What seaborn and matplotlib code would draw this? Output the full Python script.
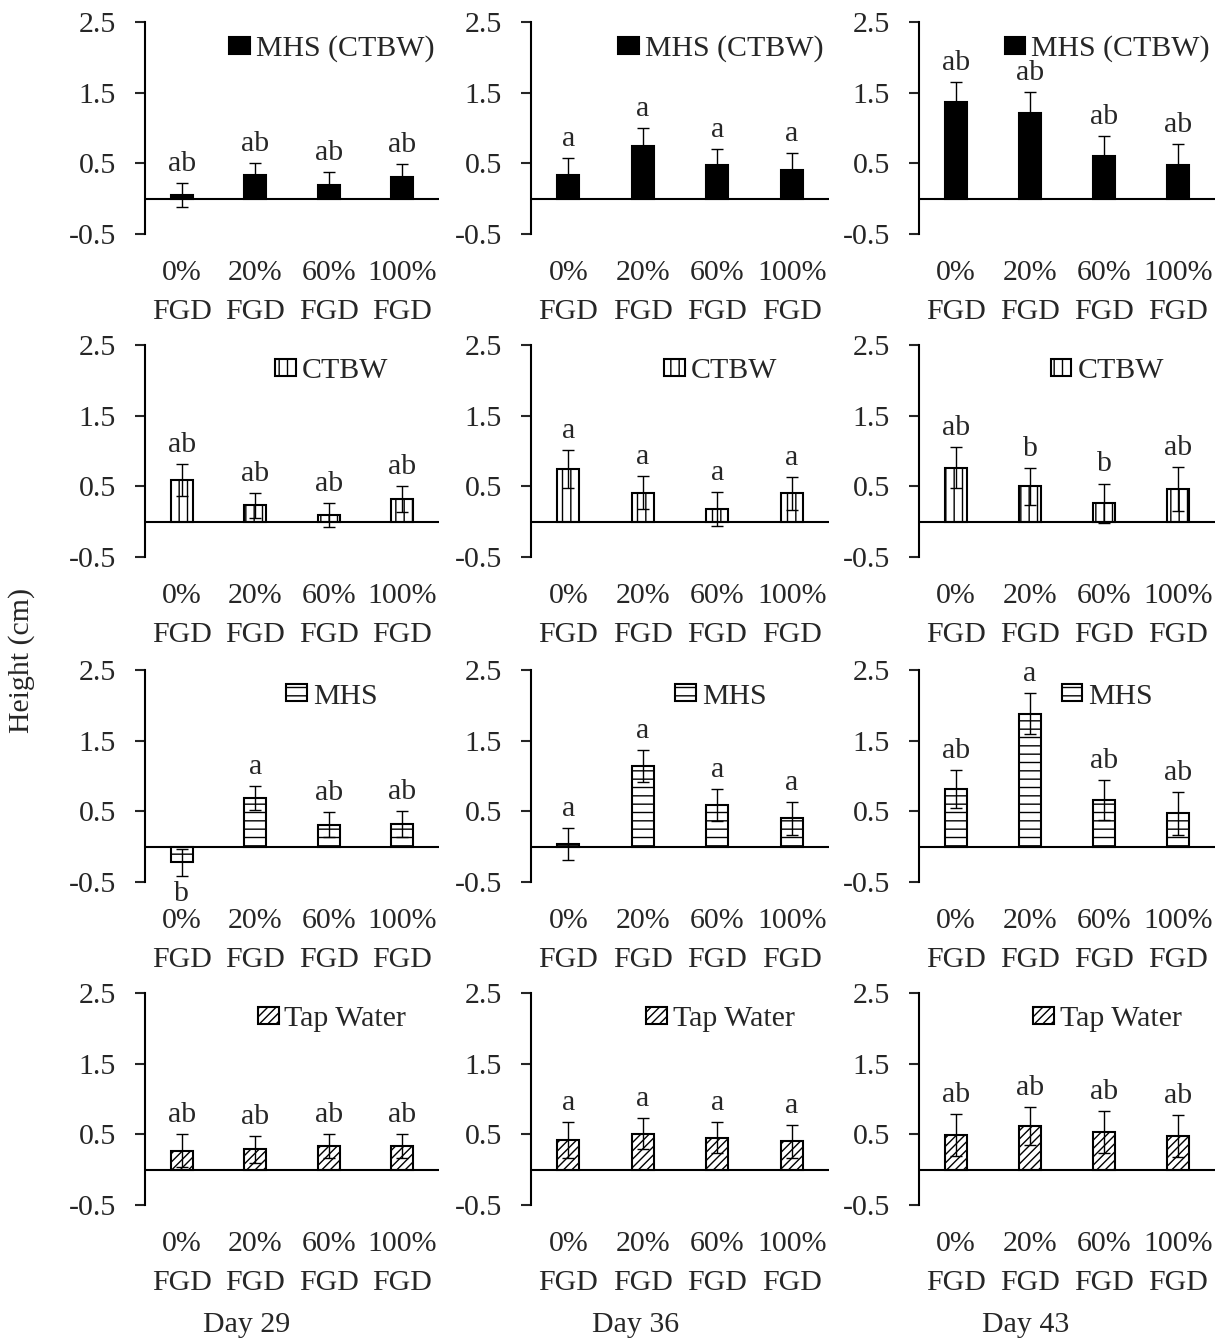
import matplotlib
matplotlib.use("Agg")
import matplotlib.pyplot as plt
from matplotlib.patches import Patch
import seaborn as sns
import pandas as pd

# ---------------- data ----------------
categories = ["0%\nFGD", "20%\nFGD", "60%\nFGD", "100%\nFGD"]
days = ["Day 29", "Day 36", "Day 43"]
treatments = ["MHS (CTBW)", "CTBW", "MHS", "Tap Water"]

# means / errors / letters per day (Day 29, Day 36, Day 43)
mean_mhs_ctbw = [[0.05, 0.33, 0.20, 0.31], [0.34, 0.75, 0.47, 0.41], [1.37, 1.21, 0.61, 0.47]]
err_mhs_ctbw = [[0.17, 0.18, 0.18, 0.18], [0.24, 0.25, 0.23, 0.24], [0.28, 0.30, 0.27, 0.31]]
let_mhs_ctbw = [["ab", "ab", "ab", "ab"], ["a", "a", "a", "a"], ["ab", "ab", "ab", "ab"]]

mean_ctbw = [[0.59, 0.23, 0.10, 0.32], [0.75, 0.41, 0.18, 0.40], [0.76, 0.50, 0.26, 0.46]]
err_ctbw = [[0.22, 0.18, 0.17, 0.18], [0.27, 0.23, 0.24, 0.23], [0.29, 0.26, 0.28, 0.31]]
let_ctbw = [["ab", "ab", "ab", "ab"], ["a", "a", "a", "a"], ["ab", "b", "b", "ab"]]

mean_mhs = [[-0.22, 0.69, 0.31, 0.32], [0.04, 1.14, 0.59, 0.40], [0.82, 1.88, 0.66, 0.47]]
err_mhs = [[0.19, 0.17, 0.18, 0.18], [0.23, 0.23, 0.23, 0.23], [0.27, 0.29, 0.28, 0.30]]
let_mhs = [["b", "a", "ab", "ab"], ["a", "a", "a", "a"], ["ab", "a", "ab", "ab"]]

mean_tap = [[0.27, 0.29, 0.34, 0.33], [0.42, 0.51, 0.45, 0.40], [0.49, 0.62, 0.53, 0.48]]
err_tap = [[0.23, 0.19, 0.17, 0.17], [0.26, 0.22, 0.22, 0.23], [0.30, 0.27, 0.30, 0.30]]
let_tap = [["ab", "ab", "ab", "ab"], ["a", "a", "a", "a"], ["ab", "ab", "ab", "ab"]]

y_ticks = [-0.5, 0.5, 1.5, 2.5]
y_ticklabels = ["-0.5", "0.5", "1.5", "2.5"]

# ---------------- style ----------------
sns.set_style("white")
plt.rcParams["font.family"] = ["Liberation Serif", "DejaVu Serif"]
plt.rcParams["hatch.linewidth"] = 1.0
plt.rcParams["hatch.color"] = "black"
FS = 21.5

rows = [
    (mean_mhs_ctbw, err_mhs_ctbw, let_mhs_ctbw, "black", None),
    (mean_ctbw, err_ctbw, let_ctbw, "white", "||"),
    (mean_mhs, err_mhs, let_mhs, "white", "--"),
    (mean_tap, err_tap, let_tap, "white", "////"),
]

W, H = 1221, 1341
fig = plt.figure(figsize=(W / 100, H / 100), dpi=100)

col_left = [145, 531, 919]
col_width = [294, 298, 296]
row_top = [22, 345, 670, 993]
ax_h = 212

for r, (means, errs, lets, fc, hatch) in enumerate(rows):
    for c in range(3):
        ax = fig.add_axes([col_left[c] / W, 1 - (row_top[r] + ax_h) / H,
                           col_width[c] / W, ax_h / H])
        df = pd.DataFrame({"cat": categories, "val": means[c]})
        sns.barplot(data=df, x="cat", y="val", ax=ax, color=fc, saturation=1,
                    width=0.3, edgecolor="black", linewidth=1.5, hatch=hatch,
                    errorbar=None, zorder=2)
        ax.errorbar(x=list(range(4)), y=means[c], yerr=errs[c], fmt="none",
                    ecolor="black", elinewidth=1.0, capsize=4, capthick=1.0, zorder=3)
        for i, (m, e, t) in enumerate(zip(means[c], errs[c], lets[c])):
            if m >= 0:
                ax.text(i, m + e + 0.17, t, ha="center", va="baseline", fontsize=FS)
            else:
                ax.text(i, m - e - 0.07, t, ha="center", va="top", fontsize=FS)
        ax.axhline(0, color="black", lw=1.5, zorder=4)
        ax.set_xlim(-0.5, 3.5)
        ax.set_ylim(-0.5, 2.5)
        ax.set_yticks(y_ticks)
        ax.set_yticklabels(y_ticklabels, fontsize=FS)
        ax.set_xticks(range(4))
        ax.set_xticklabels(categories, fontsize=FS, linespacing=1.62)
        ax.tick_params(axis="x", length=0, pad=19)
        ax.tick_params(axis="y", length=7, width=1.5, pad=14, direction="out", left=True)
        ax.set_xlabel("")
        ax.set_ylabel("")
        for s in ["top", "right", "bottom"]:
            ax.spines[s].set_visible(False)
        ax.spines["left"].set_linewidth(1.5)
        ax.spines["left"].set_color("black")
        ax.patch.set_alpha(0)
        handle = Patch(facecolor=fc, edgecolor="black", hatch=hatch, linewidth=1.5)
        ax.legend(handles=[handle], labels=[treatments[r]], loc="center",
                  bbox_to_anchor=(0.636, 0.875), frameon=False, fontsize=FS,
                  handlelength=0.7, handleheight=0.5, handletextpad=0.2,
                  borderpad=0, borderaxespad=0)

fig.text(22 / W, 1 - 660 / H, "Height (cm)", rotation=90, ha="center", va="center", fontsize=FS)
for x, d in zip([247, 636, 1026], days):
    fig.text(x / W, 1 - 1325 / H, d, ha="center", va="center", fontsize=FS)

fig.savefig("out.png", dpi=100, facecolor="white")
